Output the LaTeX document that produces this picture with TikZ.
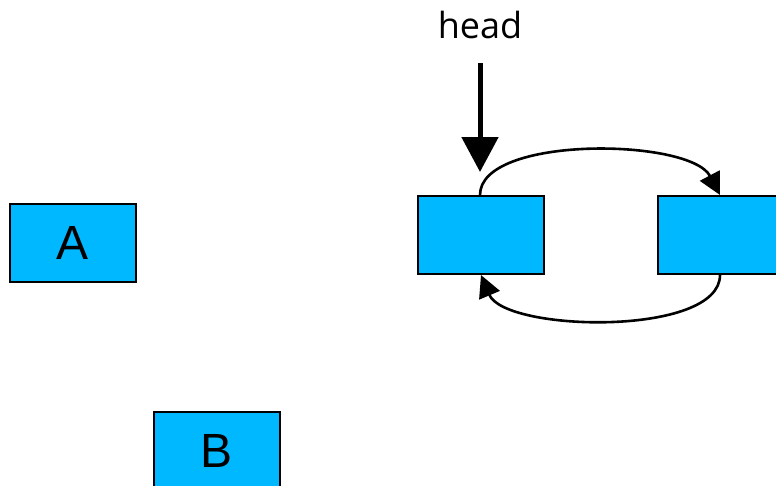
\documentclass[tikz,border=0pt]{standalone}
\usepackage{fontspec}
\setmainfont{Liberation Sans}
\newfontfamily\labelfont{Open Sans}
\usetikzlibrary{arrows.meta}
\definecolor{cellblue}{RGB}{0,184,255}
\tikzset{
  cell/.style={draw=black, line width=2pt, fill=cellblue, minimum width=126pt,
    minimum height=78pt, inner sep=0pt, font=\fontsize{48}{56}\selectfont},
  link/.style={line width=2.6pt, -{Triangle[length=22pt,width=22pt]}},
  pointer/.style={line width=5pt, -{Triangle[length=35pt,width=36pt]}}
}
\begin{document}
\begin{tikzpicture}[x=1pt,y=-1pt]
  \useasboundingbox (0,0) rectangle (776,485);
  % stand-alone cells
  \node[cell] (A) at (73,243) {A};
  \node[cell] (B) at (217,451) {B};
  % two-cell ring
  \node[cell] (L) at (481,235) {};
  \node[cell] (R) at (721,235) {};
  % head pointer
  \node[font=\labelfont\fontsize{36}{40}\selectfont, anchor=base] (head) at (480,38) {head};
  \coordinate (ptail) at (480,63);
  \coordinate (ptip) at (480,172);
  \draw[pointer] (ptail) -- (ptip);
  % links between the cells
  \draw[link] (L.north -| 480,0) .. controls (480,135) and (690,138) .. (R.north -| 720,0);
  \draw[link] (R.south -| 720,0) .. controls (720,337) and (505,332) .. (L.south -| 481,0);
\end{tikzpicture}
\end{document}
